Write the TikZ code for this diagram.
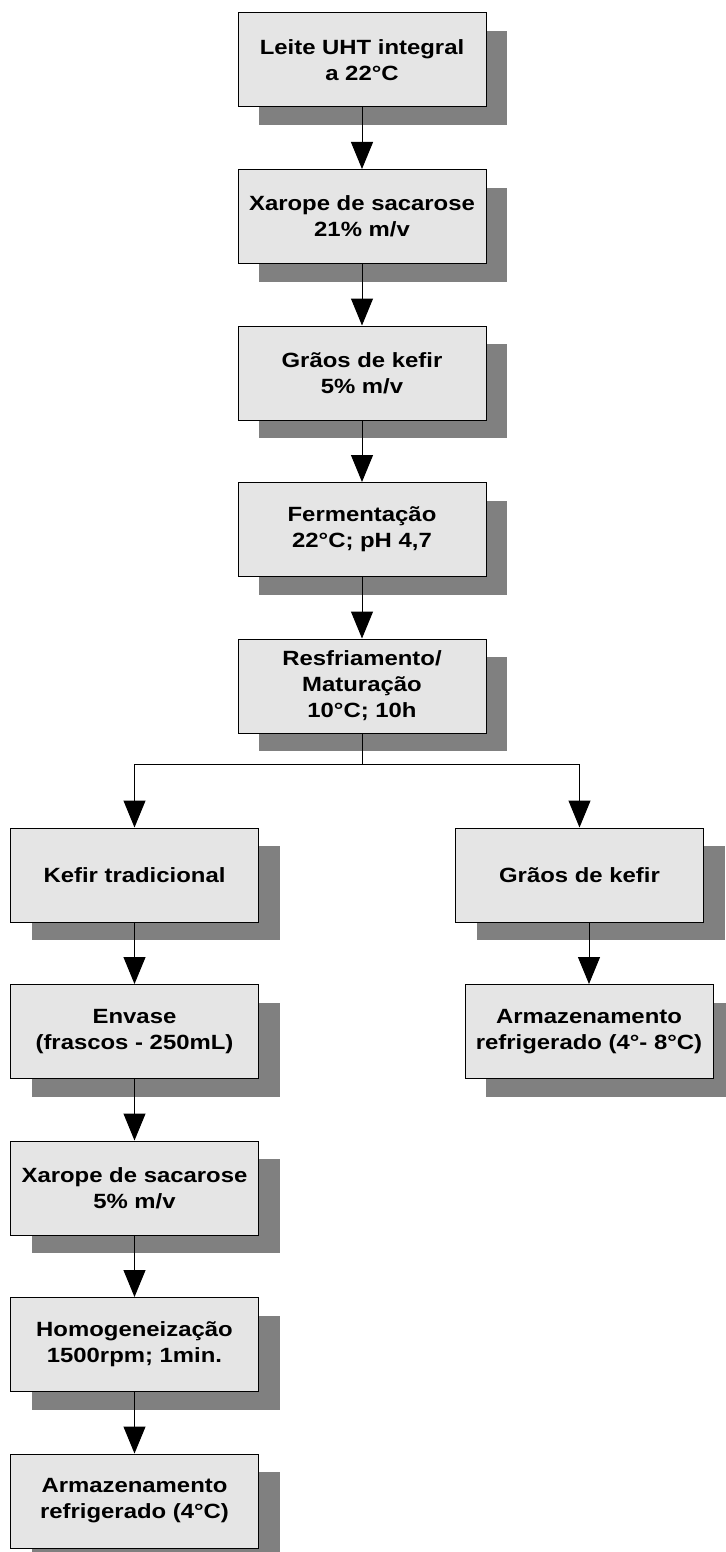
\documentclass[tikz,border=0pt]{standalone}
\usepackage{fontspec}
\setmainfont{Liberation Sans}[FakeStretch=1.16]
\usepackage{tikz}
\usetikzlibrary{arrows.meta, positioning, shadows}
\tikzstyle{flow-arrow} = [-{Triangle[width=11pt,length=13.5pt]}, line width=0.5pt]
\tikzstyle{stepbox} = [rectangle, draw=black, line width=0.5pt, fill=black!10, minimum width=124pt, minimum height=47pt, align=center, font=\bfseries\fontsize{10.3}{13}\selectfont, drop shadow={shadow xshift=10.5pt, shadow yshift=-9pt, fill=black!50, opacity=1}]

\begin{document}
\begin{tikzpicture}[node distance=30.75pt]

  \useasboundingbox (0,0) rectangle (362.5pt,-776pt);

  % Main column
  \node (leite) [stepbox] at (181pt,-30pt) {Leite UHT integral\\a 22°C};
  \node (xarope1) [stepbox, below=of leite] {Xarope de sacarose\\21\% m/v};
  \node (graos1) [stepbox, below=of xarope1] {Grãos de kefir\\5\% m/v};
  \node (ferm) [stepbox, below=of graos1] {Fermentação\\22°C; pH 4,7};
  \node (resfr) [stepbox, below=of ferm] {Resfriamento/\\Maturação\\10°C; 10h};

  % Left branch
  \node (kefir) [stepbox, below=47pt of resfr, xshift=-113.75pt] {Kefir tradicional};
  \node (envase) [stepbox, below=of kefir] {Envase\\(frascos - 250mL)};
  \node (xarope2) [stepbox, below=of envase] {Xarope de sacarose\\5\% m/v};
  \node (homog) [stepbox, below=of xarope2] {Homogeneização\\1500rpm; 1min.};
  \node (armaz1) [stepbox, below=of homog] {Armazenamento\\refrigerado (4°C)};

  % Right branch
  \node (graos2) [stepbox, below=47pt of resfr, xshift=108.75pt] {Grãos de kefir};
  \node (armaz2) [stepbox, below=of graos2, xshift=4.75pt] {Armazenamento\\refrigerado (4°- 8°C)};

  % Arrows
  \draw[flow-arrow] (leite) -- (xarope1);
  \draw[flow-arrow] (xarope1) -- (graos1);
  \draw[flow-arrow] (graos1) -- (ferm);
  \draw[flow-arrow] (ferm) -- (resfr);

  \coordinate (split) at ([yshift=-15.5pt]resfr.south);
  \draw[line width=0.5pt] (resfr.south) -- (split);
  \draw[flow-arrow] (split) -| (kefir.north);
  \draw[flow-arrow] (split) -| (graos2.north);

  \draw[flow-arrow] (kefir) -- (envase);
  \draw[flow-arrow] (envase) -- (xarope2);
  \draw[flow-arrow] (xarope2) -- (homog);
  \draw[flow-arrow] (homog) -- (armaz1);
  \draw[flow-arrow] (armaz2.north |- graos2.south) -- (armaz2.north);

\end{tikzpicture}
\end{document}
